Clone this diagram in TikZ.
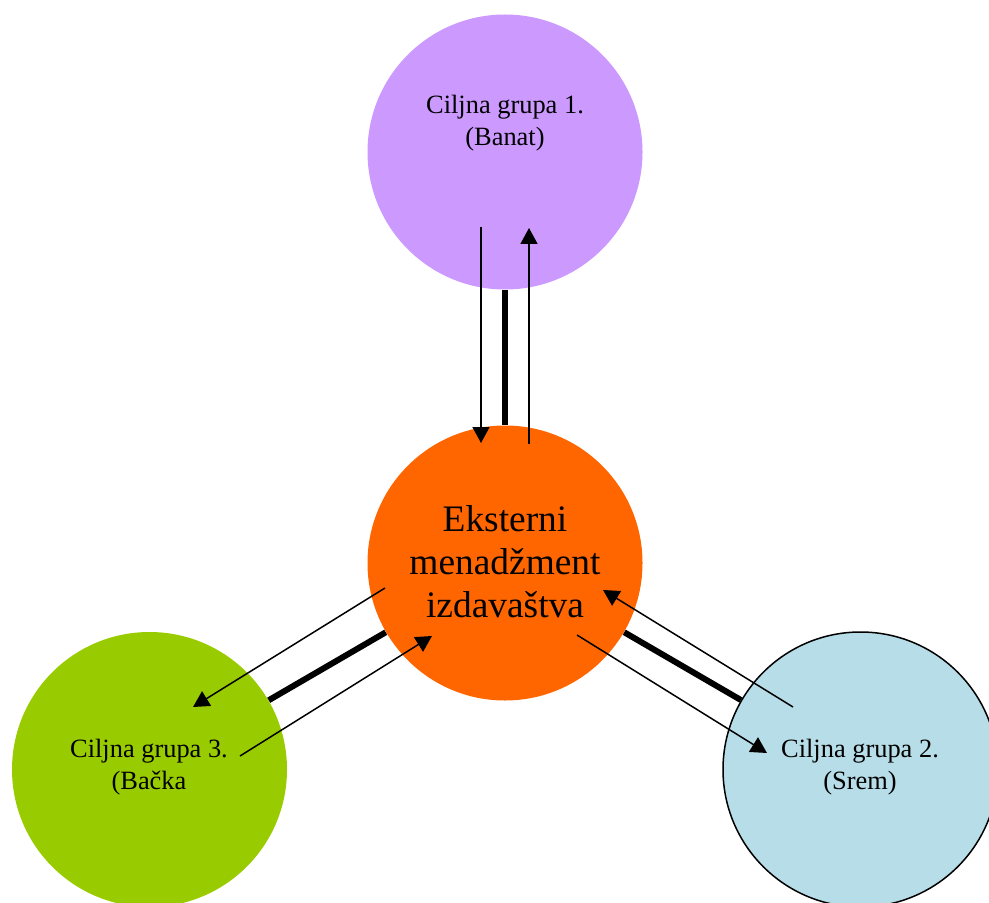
\documentclass[tikz,border=0pt]{standalone}
\usepackage{fontspec}
\setmainfont{Liberation Serif}
\usetikzlibrary{arrows.meta}
\definecolor{banatc}{HTML}{CC99FF}
\definecolor{ctrc}{HTML}{FF6600}
\definecolor{backac}{HTML}{99CC00}
\definecolor{sremc}{HTML}{B7DEE8}
\tikzset{group/.style={circle,minimum size=137.5pt,inner sep=0pt},
  lbl/.style={align=center,font=\fontsize{13.2}{16}\selectfont},
  link/.style={line width=3pt},
  flow/.style={-{Triangle[width=8.5pt,length=8pt]},line width=0.75pt}}

\begin{document}
\begin{tikzpicture}[x=0.5pt,y=-0.5pt,line join=round]
\useasboundingbox (0,0) rectangle (989,903);
\clip (0,0) rectangle (989,903);
% --- circles
\node[group,fill=banatc] (banat) at (505,152) {};
\node[group,fill=ctrc] (ctr) at (505,563) {};
\node[group,fill=backac] (backa) at (149.5,769.5) {};
\node[group,fill=sremc,draw,line width=0.75pt] (srem) at (860.5,769.5) {};
% --- texts
\node[lbl] (banatTxt) at (505,123) {Ciljna grupa 1.\\(Banat)};
\node[lbl] (backaTxt) at (149,767) {Ciljna grupa 3.\\(Bačka};
\node[lbl] (sremTxt) at (860,767) {Ciljna grupa 2.\\(Srem)};
\node[align=center,font=\fontsize{18.7}{21.5}\selectfont] (ctrTxt) at (505,562) {Eksterni\\menadžment\\izdavaštva};
% --- thick links
\draw[link] (banat) -- (ctr);
\draw[link] (backa) -- (ctr);
\draw[link] (srem) -- (ctr);
% --- flows
\coordinate (banatOut) at (481,227); \coordinate (ctrInA) at (481,443);
\coordinate (ctrOutA) at (529,444); \coordinate (banatIn) at (529,228);
\coordinate (ctrOutB) at (385,588); \coordinate (backaIn) at (193,707);
\coordinate (backaOut) at (240,756); \coordinate (ctrInB) at (432,636);
\coordinate (sremOut) at (793,707); \coordinate (ctrInC) at (603,590);
\coordinate (ctrOutC) at (577,635); \coordinate (sremIn) at (767,753);
\draw[flow] (banatOut) -- (ctrInA);
\draw[flow] (ctrOutA) -- (banatIn);
\draw[flow] (ctrOutB) -- (backaIn);
\draw[flow] (backaOut) -- (ctrInB);
\draw[flow] (sremOut) -- (ctrInC);
\draw[flow] (ctrOutC) -- (sremIn);
\end{tikzpicture}
\end{document}
